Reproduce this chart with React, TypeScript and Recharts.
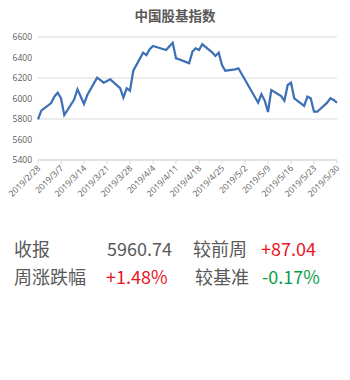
import React from "react";
import { LineChart, Line, XAxis, YAxis, CartesianGrid } from "recharts";

const dates = [
  "2019-02-28", "2019-03-01", "2019-03-04", "2019-03-05", "2019-03-06", "2019-03-07", "2019-03-08",
  "2019-03-11", "2019-03-12", "2019-03-13", "2019-03-14", "2019-03-15",
  "2019-03-18", "2019-03-19", "2019-03-20", "2019-03-21", "2019-03-22",
  "2019-03-25", "2019-03-26", "2019-03-27", "2019-03-28", "2019-03-29",
  "2019-04-01", "2019-04-02", "2019-04-03", "2019-04-04",
  "2019-04-08", "2019-04-09", "2019-04-10", "2019-04-11", "2019-04-12",
  "2019-04-15", "2019-04-16", "2019-04-17", "2019-04-18", "2019-04-19",
  "2019-04-22", "2019-04-23", "2019-04-24", "2019-04-25", "2019-04-26",
  "2019-04-29", "2019-04-30",
  "2019-05-06", "2019-05-07", "2019-05-08", "2019-05-09", "2019-05-10",
  "2019-05-13", "2019-05-14", "2019-05-15", "2019-05-16", "2019-05-17",
  "2019-05-20", "2019-05-21", "2019-05-22", "2019-05-23", "2019-05-24",
  "2019-05-27", "2019-05-28", "2019-05-29", "2019-05-30",
];

const values = [
  5797, 5881, 5955, 6020, 6057, 6002, 5839,
  5990, 6090, 6020, 5946, 6034,
  6203, 6180, 6154, 6170, 6187,
  6100, 6008, 6100, 6076, 6271,
  6447, 6424, 6480, 6512,
  6473, 6510, 6544, 6392, 6382,
  6343, 6457, 6490, 6473, 6529,
  6450, 6415, 6447, 6327, 6271,
  6285, 6295,
  5959, 6041, 5980, 5868, 6083,
  6024, 5979, 6132, 6154, 6002,
  5927, 6018, 6002, 5871, 5871,
  5959, 6002, 5985, 5960.74,
];

const tickLabels = [
  "2019/2/28", "2019/3/7", "2019/3/14", "2019/3/21", "2019/3/28", "2019/4/4", "2019/4/11",
  "2019/4/18", "2019/4/25", "2019/5/2", "2019/5/9", "2019/5/16", "2019/5/23", "2019/5/30",
];

const yTicks = [5400, 5600, 5800, 6000, 6200, 6400, 6600];

const title = "中国股基指数";

const DAY = 86400000;
const base = Date.UTC(2019, 1, 28);
const dayOf = (s: string) => {
  const [y, m, d] = s.split("-").map(Number);
  return Math.round((Date.UTC(y, m - 1, d) - base) / DAY);
};

const data = dates.map((d, i) => ({ day: dayOf(d), value: values[i] }));
const xTicks = tickLabels.map((_, i) => i * 7);

const FONT = "'Open Sans', 'Noto Sans CJK SC', sans-serif";
const GREY = "#595959";
const RED = "#e8141e";
const GREEN = "#0a9e4a";

const XTick = (props: any) => {
  const { x, y, payload } = props;
  const label = tickLabels[payload.index] ?? "";
  return (
    <g transform={`translate(${x},${y})`}>
      <text
        x={0}
        y={0}
        dy={4}
        textAnchor="end"
        transform="rotate(-45)"
        fontSize={8.5}
        fill={GREY}
        fontFamily={FONT}
      >
        {label}
      </text>
    </g>
  );
};

export default function App() {
  const row: React.CSSProperties = {
    position: "absolute",
    fontSize: 18,
    fontFamily: "'Noto Sans CJK SC', sans-serif",
    lineHeight: "20px",
    whiteSpace: "nowrap",
  };
  return (
    <div style={{ position: "absolute", left: 0, top: 0, width: 350, height: 380, background: "#fff" }}>
      <div
        style={{
          position: "absolute",
          left: 0,
          top: 5,
          width: 350,
          textAlign: "center",
          fontSize: 13.5,
          fontWeight: "bold",
          color: GREY,
          fontFamily: "'Noto Sans CJK SC', sans-serif",
          lineHeight: "20px",
        }}
      >
        {title}
      </div>
      <div style={{ position: "absolute", left: 0, top: 0 }}>
        <LineChart
          width={350}
          height={210}
          data={data}
          margin={{ top: 37, right: 13, left: 0, bottom: 10 }}
        >
          <CartesianGrid vertical={false} stroke="#d9d9d9" />
          <XAxis
            dataKey="day"
            type="number"
            domain={[0, 91]}
            ticks={xTicks}
            interval={0}
            height={40}
            stroke="#d9d9d9"
            tickSize={4}
            tick={<XTick />}
          />
          <YAxis
            domain={[5400, 6600]}
            ticks={yTicks}
            width={38}
            axisLine={false}
            tickLine={false}
            tickSize={4}
            tickMargin={2}
            tick={{ fontSize: 8.5, fill: GREY, fontFamily: FONT }}
          />
          <Line
            type="linear"
            dataKey="value"
            stroke="#3e70b6"
            strokeWidth={2.25}
            dot={false}
            isAnimationActive={false}
          />
        </LineChart>
      </div>
      <div style={{ ...row, left: 14, top: 238, color: GREY }}>收报</div>
      <div style={{ ...row, left: 107, top: 238, color: GREY }}>5960.74</div>
      <div style={{ ...row, left: 193, top: 238, color: GREY }}>较前周</div>
      <div style={{ ...row, left: 261, top: 238, color: RED }}>+87.04</div>
      <div style={{ ...row, left: 14, top: 266, color: GREY }}>周涨跌幅</div>
      <div style={{ ...row, left: 106, top: 266, color: RED }}>+1.48%</div>
      <div style={{ ...row, left: 195, top: 266, color: GREY }}>较基准</div>
      <div style={{ ...row, left: 262, top: 266, color: GREEN }}>-0.17%</div>
    </div>
  );
}
